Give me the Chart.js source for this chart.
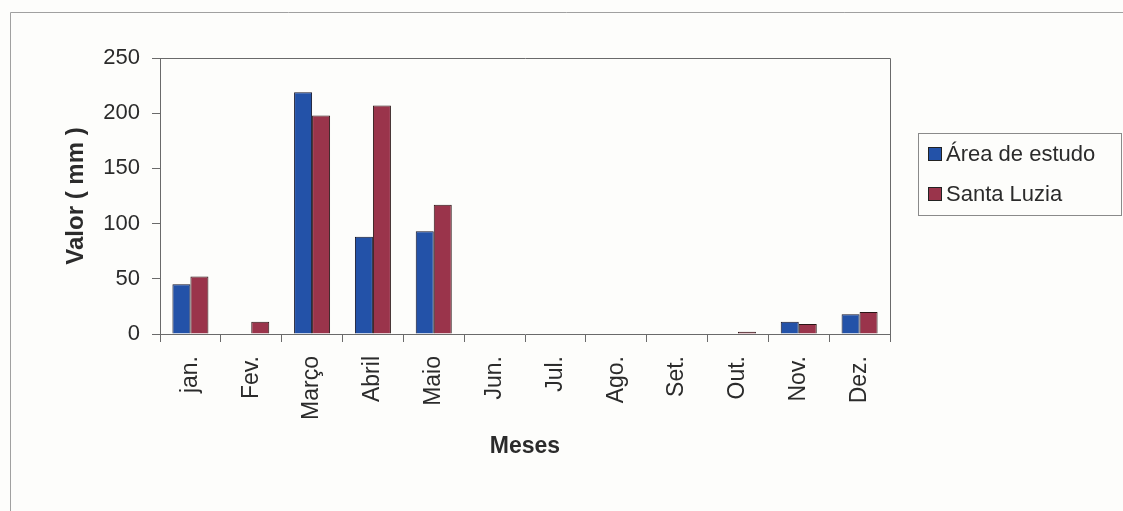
<!DOCTYPE html>
<html lang="pt">
<head>
<meta charset="utf-8">
<title>Precipitação mensal</title>
<script src="https://cdn.jsdelivr.net/npm/chart.js@4.4.1/dist/chart.umd.min.js"></script>
<style>
  html, body { margin: 0; padding: 0; background: #fdfdfb; }
  #wrap { width: 1123px; height: 511px; position: relative; }
  canvas { display: block; }
</style>
</head>
<body>
<div id="wrap"><canvas id="chuva" width="1123" height="511"></canvas></div>
<script>
// Meses do ano
const meses = ['jan.', 'Fev.', 'Março', 'Abril', 'Maio', 'Jun.', 'Jul.', 'Ago.', 'Set.', 'Out.', 'Nov.', 'Dez.'];
// Precipitação (mm) por série
const areaEstudo = [45, 0, 219, 88, 93, 0, 0, 0, 0, 0, 11, 18];
const santaLuzia = [52, 11, 198, 207, 117, 0, 0, 0, 0, 2, 9, 20];
// Nomes das séries
const nomesSeries = ['Área de estudo', 'Santa Luzia'];
// Marcas do eixo vertical
const marcasValor = [0, 50, 100, 150, 200, 250];

const FONTE = '"Liberation Sans", Arial, sans-serif';
const COR_TEXTO = '#2b2b2b';
const COR_EIXO = '#6a6a6a';

// Fundo, moldura externa e contorno da área de plotagem
const moldura = {
  id: 'moldura',
  beforeDraw(chart) {
    const { ctx, width, height } = chart;
    ctx.save();
    ctx.fillStyle = '#fdfdfb';
    ctx.fillRect(0, 0, width, height);
    ctx.strokeStyle = '#a0a0a0';
    ctx.lineWidth = 1;
    ctx.beginPath();
    ctx.moveTo(10.5, height);
    ctx.lineTo(10.5, 12.5);
    ctx.lineTo(width, 12.5);
    ctx.stroke();
    ctx.restore();
  },
  afterDraw(chart) {
    const { ctx, chartArea: a } = chart;
    ctx.save();
    ctx.strokeStyle = COR_EIXO;
    ctx.lineWidth = 1;
    ctx.beginPath();
    ctx.moveTo(Math.round(a.left) + 0.5, Math.round(a.top) + 0.5);
    ctx.lineTo(Math.round(a.right) + 0.5, Math.round(a.top) + 0.5);
    ctx.lineTo(Math.round(a.right) + 0.5, Math.round(a.bottom) + 0.5);
    ctx.stroke();
    ctx.restore();
  }
};

// Legenda em caixa à direita do gráfico
const legendaCaixa = {
  id: 'legendaCaixa',
  afterDraw(chart) {
    const { ctx } = chart;
    const x = 918, y = 133, w = 203, h = 82;
    ctx.save();
    ctx.fillStyle = '#fdfdfb';
    ctx.fillRect(x, y, w, h);
    ctx.strokeStyle = '#8a8a8a';
    ctx.lineWidth = 1;
    ctx.strokeRect(x + 0.5, y + 0.5, w, h);
    ctx.font = '22px ' + FONTE;
    ctx.textBaseline = 'middle';
    ctx.textAlign = 'left';
    chart.data.datasets.forEach((ds, i) => {
      const cy = y + 21 + i * 40;
      ctx.fillStyle = ds.backgroundColor;
      ctx.fillRect(928, cy - 7, 14, 14);
      ctx.strokeStyle = '#222';
      ctx.strokeRect(928.5, cy - 6.5, 13, 13);
      ctx.fillStyle = COR_TEXTO;
      ctx.fillText(ds.label, 946, cy + 1);
    });
    ctx.restore();
  }
};

new Chart(document.getElementById('chuva'), {
  type: 'bar',
  data: {
    labels: meses,
    datasets: [
      { label: nomesSeries[0], data: areaEstudo, backgroundColor: '#2352a8', borderColor: '#15152a', borderWidth: 1 },
      { label: nomesSeries[1], data: santaLuzia, backgroundColor: '#9a344b', borderColor: '#2a1515', borderWidth: 1 }
    ]
  },
  options: {
    responsive: false,
    animation: false,
    devicePixelRatio: 1,
    layout: { padding: { top: 58, right: 233, left: 0, bottom: 0 } },
    datasets: { bar: { categoryPercentage: 0.592, barPercentage: 1 } },
    plugins: {
      legend: { display: false },
      tooltip: { enabled: false }
    },
    scales: {
      x: {
        afterFit(s) { s.height = 177; },
        grid: { drawOnChartArea: false, color: COR_EIXO, tickLength: 8, offset: true },
        border: { color: COR_EIXO, width: 1 },
        ticks: {
          color: COR_TEXTO,
          font: { family: FONTE, size: 23 },
          minRotation: 90, maxRotation: 90,
          padding: 14, autoSkip: false
        },
        title: {
          display: true, text: 'Meses', color: COR_TEXTO,
          font: { family: FONTE, size: 23, weight: 'bold' },
          padding: { top: 0, bottom: 51 }
        }
      },
      y: {
        min: 0, max: 250,
        afterFit(s) { s.width = 160; },
        afterBuildTicks(s) { s.ticks = marcasValor.map(v => ({ value: v })); },
        grid: { drawOnChartArea: false, color: COR_EIXO, tickLength: 8 },
        border: { color: COR_EIXO, width: 1 },
        ticks: {
          color: COR_TEXTO,
          font: { family: FONTE, size: 22 },
          padding: 12
        },
        title: {
          display: true, text: 'Valor ( mm )', color: COR_TEXTO,
          font: { family: FONTE, size: 24, weight: 'bold' },
          padding: { top: 62, bottom: 0 }
        }
      }
    }
  },
  plugins: [moldura, legendaCaixa]
});
</script>
</body>
</html>
